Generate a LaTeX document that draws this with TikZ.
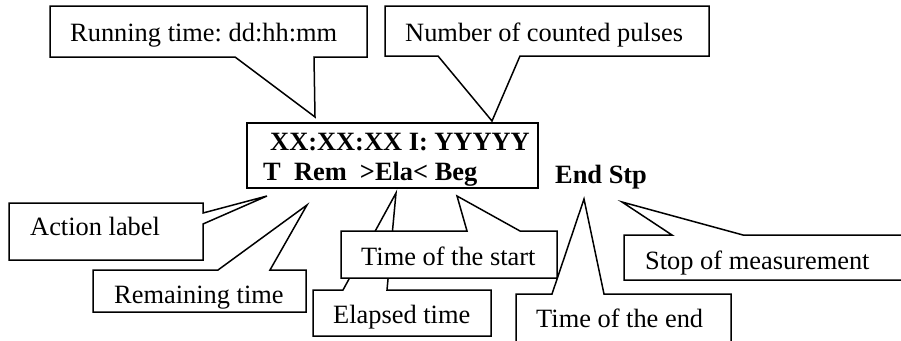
\documentclass[tikz,border=0pt]{standalone}
\usepackage{fontspec}
\setmainfont{Liberation Serif}
\frenchspacing
\tikzset{
    callout/.style = {draw = black, fill = white, line width = 1.5pt, line join = miter},
    lbl/.style = {anchor = base west, inner sep = 0pt, font = \fontsize{26.4}{30}\selectfont},
    disp/.style = {lbl, font = \fontsize{26.4}{30}\selectfont\bfseries}
}
\begin{document}
\begin{tikzpicture}[x = 1pt, y = -1pt]
            \clip (0,0) rectangle (901,340);
            % callouts
            \draw[callout] (50,6) -- (367,6) -- (367,57) -- (314,57) -- (315,117) -- (235,57) -- (50,57) -- cycle;
            \draw[callout] (385,6) -- (709,6) -- (709,56) -- (520,56) -- (492,121) -- (438,56) -- (385,56) -- cycle;
            \draw[callout] (9,203) -- (203,203) -- (203,213) -- (267,196) -- (203,224) -- (203,260) -- (9,260) -- cycle;
            \draw[callout] (93,270) -- (218,270) -- (307,205) -- (270,270) -- (306,270) -- (306,312) -- (93,312) -- cycle;
            \draw[callout] (313,290) -- (343,290) -- (396,193) -- (387,290) -- (491,290) -- (491,336) -- (313,336) -- cycle;
            \draw[callout] (341,231) -- (467,231) -- (457,196) -- (520,231) -- (557,231) -- (557,278) -- (341,278) -- cycle;
            \draw[callout] (516,294) -- (552,294) -- (584,199) -- (604,294) -- (731,294) -- (731,345) -- (516,345) -- cycle;
            \draw[callout] (624,235) -- (672,235) -- (622,202) -- (743,235) -- (910,235) -- (910,280) -- (624,280) -- cycle;
            % display
            \draw[line width = 2pt] (247,123) rectangle (538,188);
            \node[disp] (line1) at (270,150) {XX:XX:XX I: YYYYY};
            \node[disp] (line2) at (263,180) {T\ \ Rem\ \ >Ela< Beg};
            \node[disp] (endstp) at (555,183) {End Stp};
            % labels
            \foreach \name/\x/\y/\txt in {run/70/41/Running time: dd:hh:mm,
                                          pulses/405/41/Number of counted pulses,
                                          action/30/235/Action label,
                                          rem/114/303/Remaining time,
                                          ela/333/323/Elapsed time,
                                          beg/361/265/Time of the start,
                                          end/536/327/Time of the end,
                                          stp/645/269/Stop of measurement} {
                \node[lbl] (\name) at (\x,\y) {\txt};
            }
        \end{tikzpicture}
\end{document}
